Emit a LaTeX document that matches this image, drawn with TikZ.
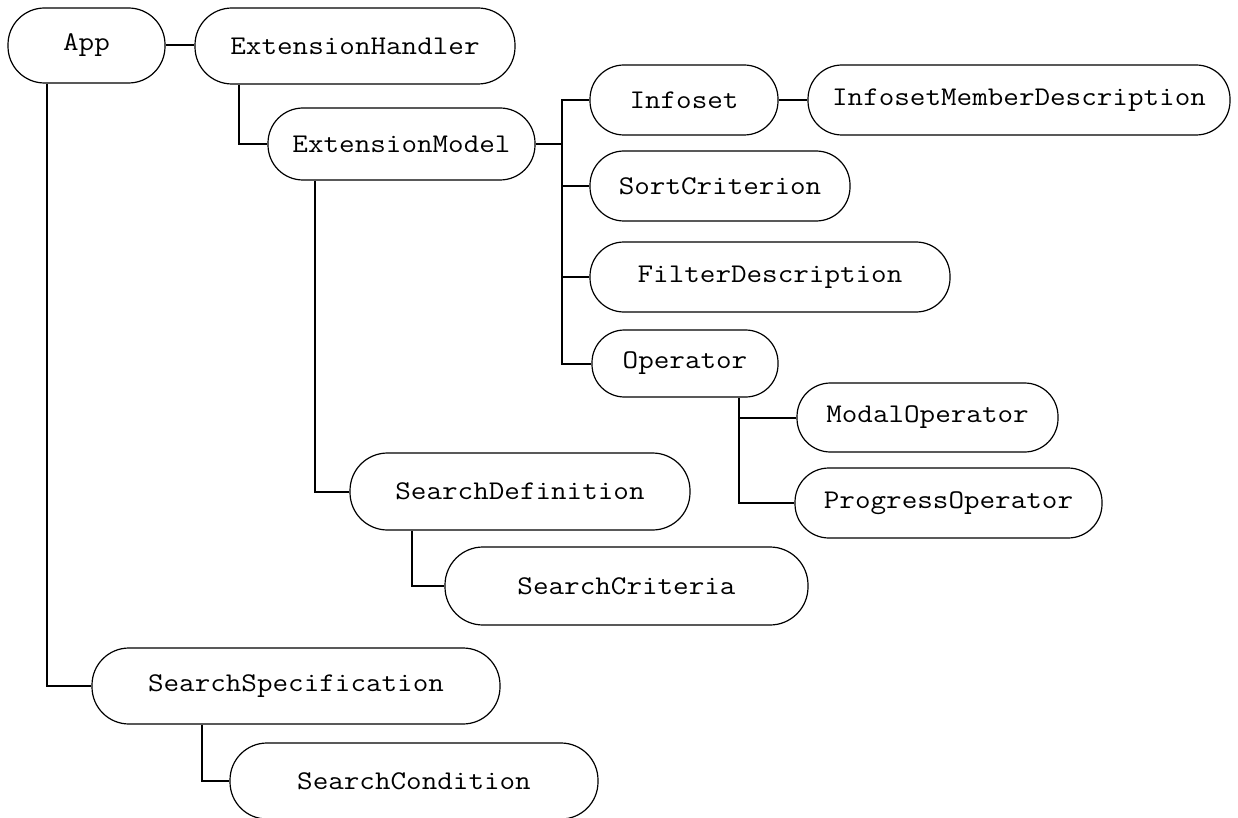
\documentclass[tikz,border=0pt]{standalone}
\usepackage{fontspec}
\newfontfamily\codefont[FakeStretch=1.12]{Latin Modern Mono}
\begin{document}
\begin{tikzpicture}[x=1pt,y=-1pt,
  cls/.style={draw, line width=1.2pt, inner sep=0pt, minimum height=#1,
    rounded corners=#1/2-1pt,
    font=\codefont\fontsize{27}{30}\selectfont},
  link/.style={line width=2pt}]
\useasboundingbox (0,0) rectangle (1238,818);

% classes
\node[cls=75pt, minimum width=157pt] (app)   at (86.5,45.5) {App};
\node[cls=76pt, minimum width=320pt] (eh)    at (355,46)    {ExtensionHandler};
\node[cls=72pt, minimum width=267pt] (em)    at (401.5,144) {ExtensionModel};
\node[cls=70pt, minimum width=188pt] (info)  at (684,100)   {Infoset};
\node[cls=70pt, minimum width=422pt] (imd)   at (1019,100)  {InfosetMemberDescription};
\node[cls=70pt, minimum width=260pt] (sort)  at (720,186)   {SortCriterion};
\node[cls=70pt, minimum width=360pt] (filt)  at (770,277)   {FilterDescription};
\node[cls=67pt, minimum width=186pt] (op)    at (685,363.5) {Operator};
\node[cls=69pt, minimum width=261pt] (modal) at (927.5,417.5) {ModalOperator};
\node[cls=70pt, minimum width=307pt] (prog)  at (948.5,503) {ProgressOperator};
\node[cls=77pt, minimum width=340pt] (sdef)  at (520,491.5) {SearchDefinition};
\node[cls=78pt, minimum width=363pt] (scrit) at (626.5,586) {SearchCriteria};
\node[cls=76pt, minimum width=408pt] (sspec) at (296,686)   {SearchSpecification};
\node[cls=76pt, minimum width=368pt] (scond) at (414,781)   {SearchCondition};

% tree connectors
\draw[link] (app.east) -- (app.east -| eh.west);
\draw[link] ([xshift=45pt]eh.south west) |- (em.west);

\coordinate (bus) at (562,0);
\draw[link] (em.east) -- (em.east -| bus);
\draw[link] (info.west) -- (info.west -| bus) -- (op.west -| bus) -- (op.west);
\draw[link] (sort.west -| bus) -- (sort.west);
\draw[link] (filt.west -| bus) -- (filt.west);
\draw[link] (info.east) -- (imd.west);

\draw[link] ([xshift=148pt]op.south west) |- (prog.west);
\draw[link] (modal.west -| prog.west) ++(-55pt,0) coordinate (mj) -- (modal.west);

\draw[link] ([xshift=48pt]em.south west) |- (sdef.west);
\draw[link] ([xshift=63pt]sdef.south west) |- (scrit.west);
\draw[link] ([xshift=40pt]app.south west) |- (sspec.west);
\draw[link] ([xshift=111pt]sspec.south west) |- (scond.west);
\end{tikzpicture}
\end{document}
